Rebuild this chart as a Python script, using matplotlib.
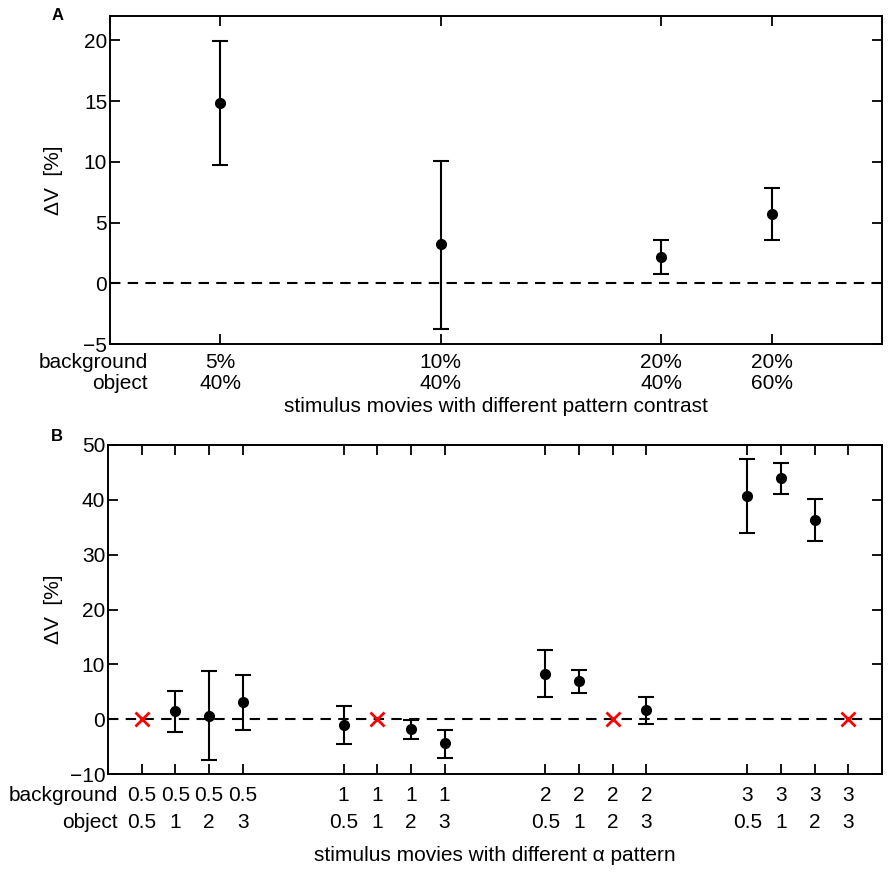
import numpy as np
import matplotlib
matplotlib.use('Agg')
import matplotlib.pyplot as plt

plt.rcParams['font.family'] = ['Liberation Sans', 'DejaVu Sans']

# Panel A data: pattern contrast
a_x = [1, 3, 5, 6]
a_background = ['5%', '10%', '20%', '20%']
a_object = ['40%', '40%', '40%', '60%']
a_mean = [14.8, 3.2, 2.2, 5.7]
a_low = [9.7, -3.8, 0.8, 3.6]
a_high = [19.95, 10.1, 3.6, 7.85]

# Panel B data: alpha pattern
b_x = [1, 2, 3, 4, 7, 8, 9, 10, 13, 14, 15, 16, 19, 20, 21, 22]
b_background = ['0.5', '0.5', '0.5', '0.5', '1', '1', '1', '1',
                '2', '2', '2', '2', '3', '3', '3', '3']
b_object = ['0.5', '1', '2', '3', '0.5', '1', '2', '3',
            '0.5', '1', '2', '3', '0.5', '1', '2', '3']
# None = no response measured (red cross at 0)
b_mean = [None, 1.4, 0.6, 3.2, -1.1, None, -1.8, -4.4,
          8.3, 6.9, None, 1.6, 40.7, 44.0, 36.3, None]
b_low = [None, -2.4, -7.5, -1.9, -4.6, None, -3.6, -7.0,
         4.0, 4.7, None, -0.9, 34.0, 41.0, 32.5, None]
b_high = [None, 5.2, 8.8, 8.1, 2.4, None, -0.1, -1.9,
          12.7, 9.0, None, 4.1, 47.4, 46.8, 40.1, None]

W, H = 892, 876
fig = plt.figure(figsize=(W / 100, H / 100), dpi=100)

fs = 15


def style_axes(ax):
    ax.tick_params(direction='in', length=7, width=1.3, top=True, right=True, pad=2,
                   labelsize=fs, labelright=False, labeltop=False, labelbottom=False)
    for s in ax.spines.values():
        s.set_linewidth(1.4)


def draw_errors(ax, x, m, lo, hi):
    x = np.array(x, dtype=float)
    m = np.array(m, dtype=float)
    err = np.vstack([m - np.array(lo, dtype=float), np.array(hi, dtype=float) - m])
    ax.errorbar(x, m, yerr=err, fmt='o', color='black', ms=7, elinewidth=1.5,
                capsize=6, capthick=1.5, zorder=3)


# ---------------- panel A ----------------
axA = fig.add_axes([110 / W, 1 - 344 / H, 772 / W, 328 / H])
axA.axhline(0, color='black', lw=1.5, linestyle=(0, (5, 3.5)), zorder=1)
draw_errors(axA, a_x, a_mean, a_low, a_high)
axA.set_xlim(0, 7)
axA.set_ylim(-5, 22)
axA.set_yticks([-5, 0, 5, 10, 15, 20])
axA.set_yticklabels(['\u22125', '0', '5', '10', '15', '20'])
axA.set_xticks(a_x)
style_axes(axA)
axA.set_ylabel('\u0394V  [%]', fontsize=fs)
axA.yaxis.set_label_coords(-0.061, 0.5)

trA = axA.get_xaxis_transform()
for x, bg, ob in zip(a_x, a_background, a_object):
    axA.text(x, -0.055, bg, transform=trA, ha='center', va='center', fontsize=fs)
    axA.text(x, -0.119, ob, transform=trA, ha='center', va='center', fontsize=fs)
axA.text(0.34, -0.055, 'background', transform=trA, ha='right', va='center', fontsize=fs)
axA.text(0.34, -0.119, 'object', transform=trA, ha='right', va='center', fontsize=fs)
axA.text(0.5, -0.192, 'stimulus movies with different pattern contrast',
         transform=axA.transAxes, ha='center', va='center', fontsize=fs)
fig.text(58 / W, 1 - 16 / H, 'A', fontsize=12, fontweight='bold', ha='center', va='center')

# ---------------- panel B ----------------
axB = fig.add_axes([108 / W, 1 - 774 / H, 774 / W, 329 / H])
axB.axhline(0, color='black', lw=1.5, linestyle=(0, (5, 3.5)), zorder=1)

valid = [i for i, m in enumerate(b_mean) if m is not None]
missing = [i for i, m in enumerate(b_mean) if m is None]
draw_errors(axB, [b_x[i] for i in valid], [b_mean[i] for i in valid],
            [b_low[i] for i in valid], [b_high[i] for i in valid])
axB.plot([b_x[i] for i in missing], [0] * len(missing), 'x', color='red',
         ms=10, mew=2, zorder=4)

axB.set_xlim(0, 23)
axB.set_ylim(-10, 50)
axB.set_yticks([-10, 0, 10, 20, 30, 40, 50])
axB.set_yticklabels(['\u221210', '0', '10', '20', '30', '40', '50'])
axB.set_xticks(b_x)
style_axes(axB)
axB.set_ylabel('\u0394V  [%]', fontsize=fs)
axB.yaxis.set_label_coords(-0.058, 0.5)

trB = axB.get_xaxis_transform()
for x, bg, ob in zip(b_x, b_background, b_object):
    axB.text(x, -0.064, bg, transform=trB, ha='center', va='center', fontsize=fs)
    axB.text(x, -0.146, ob, transform=trB, ha='center', va='center', fontsize=fs)
axB.text(0.3, -0.064, 'background', transform=trB, ha='right', va='center', fontsize=fs)
axB.text(0.3, -0.146, 'object', transform=trB, ha='right', va='center', fontsize=fs)
axB.text(0.5, -0.249, 'stimulus movies with different \u03b1 pattern',
         transform=axB.transAxes, ha='center', va='center', fontsize=fs)
fig.text(57 / W, 1 - 437 / H, 'B', fontsize=12, fontweight='bold', ha='center', va='center')

fig.savefig('out.png', dpi=100)
